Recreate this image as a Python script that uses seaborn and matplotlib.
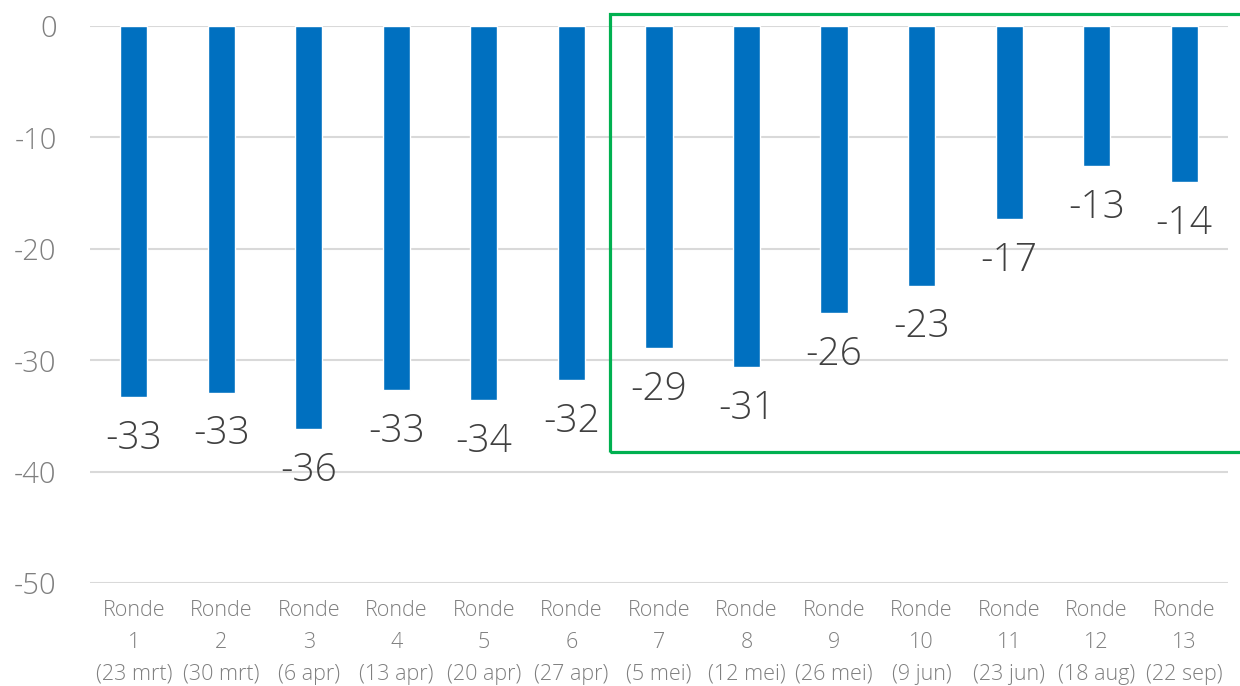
import matplotlib
matplotlib.use("Agg")
import matplotlib.pyplot as plt
from matplotlib.patches import Rectangle
import seaborn as sns
import pandas as pd

# Survey rounds and their net scores
rounds = ["1", "2", "3", "4", "5", "6", "7", "8", "9", "10", "11", "12", "13"]
dates = ["23 mrt", "30 mrt", "6 apr", "13 apr", "20 apr", "27 apr", "5 mei",
         "12 mei", "26 mei", "9 jun", "23 jun", "18 aug", "22 sep"]
scores = [-33.3, -32.9, -36.2, -32.7, -33.6, -31.8, -28.9,
          -30.6, -25.8, -23.3, -17.3, -12.6, -14.0]
y_ticks = [0, -10, -20, -30, -40, -50]

labels = [f"Ronde\n{r}\n({d})" for r, d in zip(rounds, dates)]
df = pd.DataFrame({"ronde": labels, "score": scores})

sns.set_theme(style="white")
plt.rcParams["font.family"] = ["Open Sans", "DejaVu Sans"]
plt.rcParams["font.weight"] = "light"

fig = plt.figure(figsize=(12.4, 6.86), dpi=100)
ax = fig.add_axes([0.0726, 0.150, 0.9177, 0.812])

sns.barplot(data=df, x="ronde", y="score", color="#0070C0", saturation=1,
            width=0.31, ax=ax, zorder=3)

ax.set_ylim(-50, 0)
ax.set_xlim(-0.5, 12.5)
ax.set_yticks(y_ticks)
ax.set_yticklabels([str(t) for t in y_ticks])
ax.grid(axis="y", color="#d9d9d9", linewidth=1.5, zorder=0)
ax.grid(axis="x", visible=False)
for s in ax.spines.values():
    s.set_visible(False)
ax.set_xlabel("")
ax.set_ylabel("")
ax.tick_params(axis="y", length=0, pad=24, labelsize=21, labelcolor="#7f7f7f")
ax.tick_params(axis="x", length=0, pad=12, labelsize=15.5, labelcolor="#7f7f7f")
for t in ax.get_xticklabels():
    t.set_linespacing(1.68)
    t.set_fontweight("light")
for t in ax.get_yticklabels():
    t.set_fontweight("light")

# value labels below each bar end
for i, v in enumerate(scores):
    ax.annotate(f"{round(v):d}", xy=(i, v), xytext=(0, -16),
                textcoords="offset points", ha="center", va="top",
                fontsize=28, fontweight="light", color="#404040", zorder=4,
                annotation_clip=False)

# highlight box around the later rounds
box = Rectangle((5.443, -38.25), 8.0, 39.33, fill=False, edgecolor="#00B050",
                linewidth=2.3, clip_on=False, zorder=5)
ax.add_patch(box)

fig.savefig("out.png", dpi=100)
